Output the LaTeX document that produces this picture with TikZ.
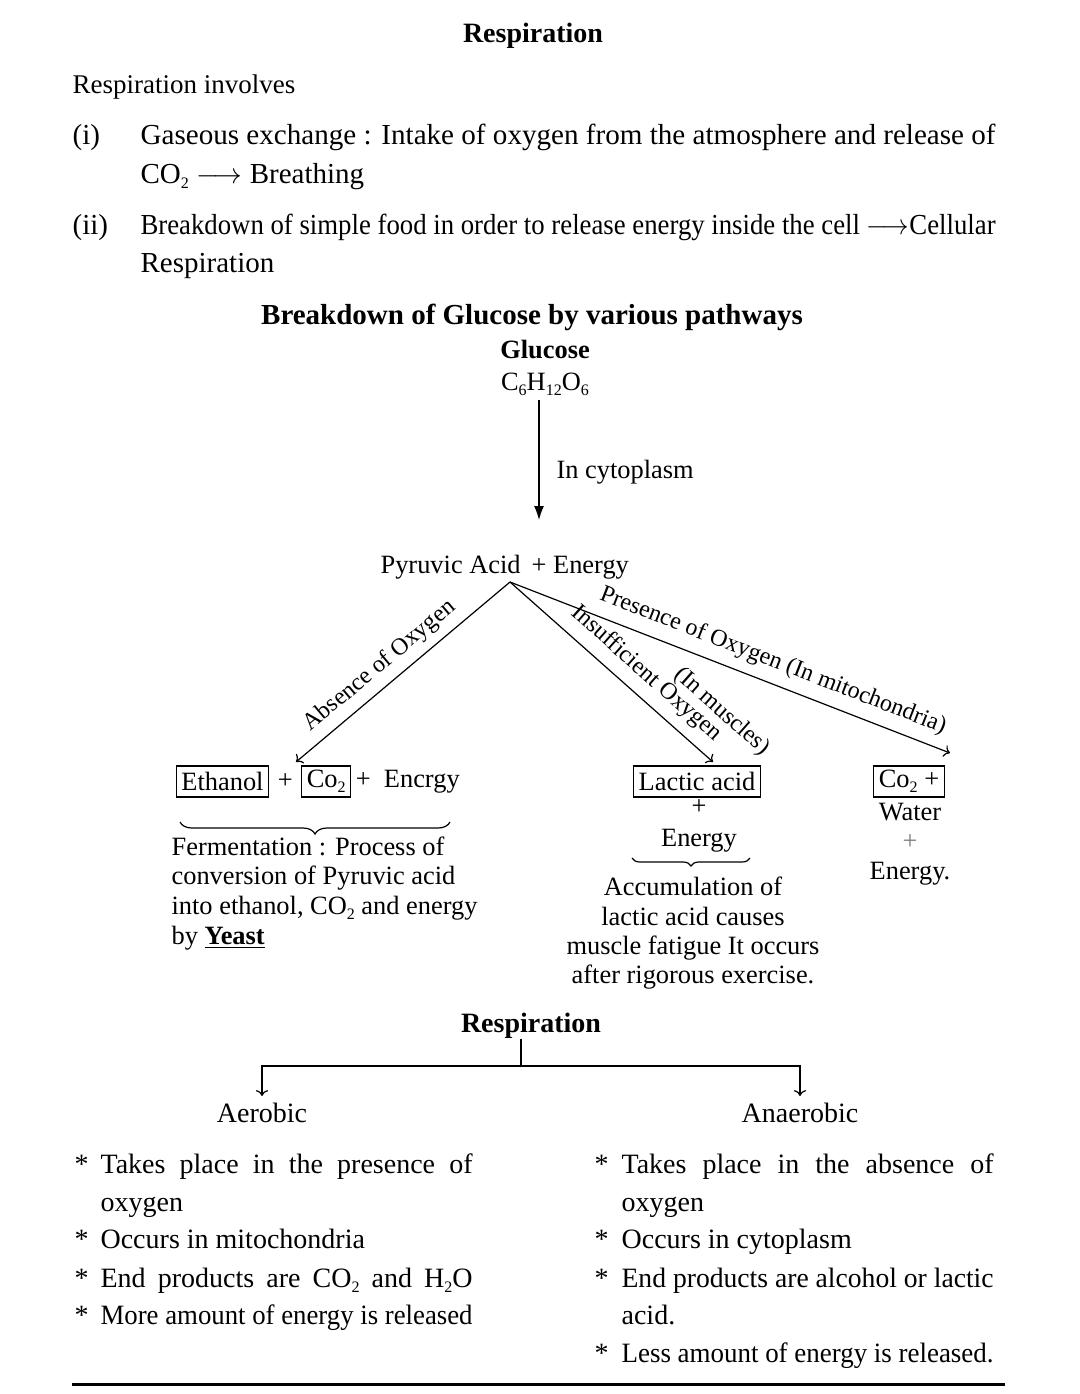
\documentclass[tikz,border=0pt]{standalone}
\usepackage{fontspec}
\setmainfont{Liberation Serif}
\usepackage{graphicx}
\usepackage{tikz}
\usetikzlibrary{arrows.meta,decorations.pathreplacing}
\usetikzlibrary{positioning}
\newcommand{\fitto}[2]{\resizebox{#1}{\height}{#2}}
\newcommand{\spread}[2]{\makebox[#1][s]{#2}}
\newcommand{\lo}[1]{\raisebox{-0.45ex}{\fontsize{8}{8}\selectfont #1}}
\tikzset{
    plain/.style={
           inner sep=0pt,
           font=\fontsize{13.2}{16}\selectfont,
           },
}
\tikzset{
    para/.style={
           inner sep=0pt,
           anchor=base west,
           font=\fontsize{14.5}{17}\selectfont,
           },
}
\tikzset{
    item/.style={
           inner sep=0pt,
           anchor=base west,
           font=\fontsize{14}{17}\selectfont,
           },
}
\tikzset{
    head/.style={
           inner sep=0pt,
           anchor=base,
           font=\bfseries\fontsize{14.5}{17}\selectfont,
           },
}
\tikzset{
    boxed/.style={
           draw, semithick,
           inner xsep=2.5pt, inner ysep=0pt,
           minimum height=15.5pt,
           font=\fontsize{13.2}{16}\selectfont,
           },
}
\tikzset{
    slope/.style={
           sloped, inner sep=1pt,
           font=\fontsize{12}{14}\selectfont,
           },
}
\tikzset{
    curly/.style={
           decorate,
           decoration={brace,mirror,amplitude=#1},
           },
}
\begin{document}
\begin{tikzpicture}[x=0.5pt,y=-0.5pt,semithick]
\useasboundingbox[fill=white] (0,0) rectangle (1080,1394);

\node[head,font=\bfseries\fontsize{14}{17}\selectfont](title) at (533,42){Respiration};
\node[para,font=\fontsize{13.5}{16}\selectfont](inv) at (72,93){Respiration involves};
\node[para](n1) at (72,144){(i)};
\node[para](i1) at (140,144){\fitto{427.5pt}{Gaseous exchange : Intake of oxygen from the atmosphere and release of}};
\node[para](i2) at (140,183){CO\lo{2} $\longrightarrow$ Breathing};
\node[para](n2) at (72,234){(ii)};
\node[para](ii1) at (140,234){\fitto{427.5pt}{Breakdown of simple food in order to release energy inside the cell $\longrightarrow$Cellular}};
\node[para](ii2) at (140,272){Respiration};

\node[head](sub) at (532,324){Breakdown of Glucose by various pathways};
\node[head,font=\bfseries\fontsize{13.2}{16}\selectfont](glu) at (545,358){Glucose};
\node[plain,anchor=base](form) at (545,390){C\lo{6}H\lo{12}O\lo{6}};
\coordinate (gbot) at (539,520);
\draw[-{Latex[length=7pt,width=5pt]},shorten <=2pt] (form.south -| gbot) -- (gbot);
\node[plain,anchor=base west](cyt) at (556,478){In cytoplasm};
\node[plain,anchor=base west](pyr) at (380,573){Pyruvic Acid \,+ Energy};

\coordinate (apex) at (510,582);
\coordinate (tipL) at (296,762);
\coordinate (tipM) at (713,762);
\coordinate (tipR) at (950,753);
\draw[->] (apex) -- node[slope,above=3pt,pos=0.55](abs){Absence of Oxygen} (tipL);
\draw[->] (apex) -- node[slope,above=4pt,pos=0.6](ins){Insufficient Oxygen}
    node[slope,above=15pt,pos=0.9](mus){(In muscles)} (tipM);
\draw[->] (apex) -- node[slope,above=4pt,pos=0.58](pre){Presence of Oxygen (In mitochondria)} (tipR);

\node[boxed](eth) at (222.5,781.5){Ethanol};
\node[plain,right=4pt of eth](p1){+};
\node[boxed,right=4pt of p1](co2a){Co\lo{2}};
\node[plain,anchor=base west](en1) at ([xshift=2pt]co2a.base east){+ \ Encrgy};
\draw[curly=6pt] (180,822) -- (450,822);
\node[plain,anchor=base west](f1) at (171,855){Fermentation : Process of};
\node[plain,anchor=base west](f2) at (171,884){conversion of Pyruvic acid};
\node[plain,anchor=base west](f3) at (171,914){into ethanol, CO\lo{2} and energy};
\node[plain,anchor=base west](f4) at (171,944){by \underline{\textbf{Yeast}}};

\node[boxed](lac) at (697,781.5){Lactic acid};
\node[plain,anchor=base](p2) at (699,814){+};
\node[plain,anchor=base](en2) at (699,846){Energy};
\draw[curly=4pt] (632,858) -- (750,858);
\node[plain,anchor=base](a1) at (693,895){Accumulation of};
\node[plain,anchor=base](a2) at (693,925){lactic acid causes};
\node[plain,anchor=base](a3) at (693,954){muscle fatigue It occurs};
\node[plain,anchor=base](a4) at (693,983){after rigorous exercise.};

\node[boxed](co2b) at (909,781.5){Co\lo{2} +};
\node[plain,anchor=base](wat) at (910,820){Water};
\node[plain,anchor=base,text=gray](p3) at (910,849){+};
\node[plain,anchor=base](en3) at (910,879){Energy.};

\node[head,font=\bfseries\fontsize{14}{17}\selectfont](res) at (531,1032){Respiration};
\coordinate (fork) at (521,1066);
\node[item,anchor=base](aer) at (262,1122){Aerobic};
\node[item,anchor=base](ana) at (800,1122){Anaerobic};
\draw (res.south -| fork) -- (fork);
\draw[->] (fork) -| ([yshift=3pt]aer.north);
\draw[->] (fork) -| ([yshift=3pt]ana.north);

\node[item](s1) at (74,1173){*};
\node[item](l1) at (100,1173){\spread{186pt}{Takes place in the presence of}};
\node[item](l2) at (100,1211){oxygen};
\node[item](s2) at (74,1248){*};
\node[item](l3) at (100,1248){Occurs in mitochondria};
\node[item](s3) at (74,1287){*};
\node[item](l4) at (100,1287){\spread{186pt}{End products are CO\lo{2} and H\lo{2}O}};
\node[item](s4) at (74,1324){*};
\node[item](l5) at (100,1324){\fitto{186pt}{More amount of energy is released}};

\node[item](t1) at (594,1173){*};
\node[item](r1) at (621,1173){\spread{186pt}{Takes place in the absence of}};
\node[item](r2) at (621,1211){oxygen};
\node[item](t2) at (594,1248){*};
\node[item](r3) at (621,1248){Occurs in cytoplasm};
\node[item](t3) at (594,1287){*};
\node[item](r4) at (621,1287){\fitto{186pt}{End products are alcohol or lactic}};
\node[item](r5) at (621,1324){acid.};
\node[item](t4) at (594,1362){*};
\node[item](r6) at (621,1362){\fitto{186pt}{Less amount of energy is released.}};

\draw[line width=1.5pt] (72,1384) -- (1005,1384);
\end{tikzpicture}
\end{document}
